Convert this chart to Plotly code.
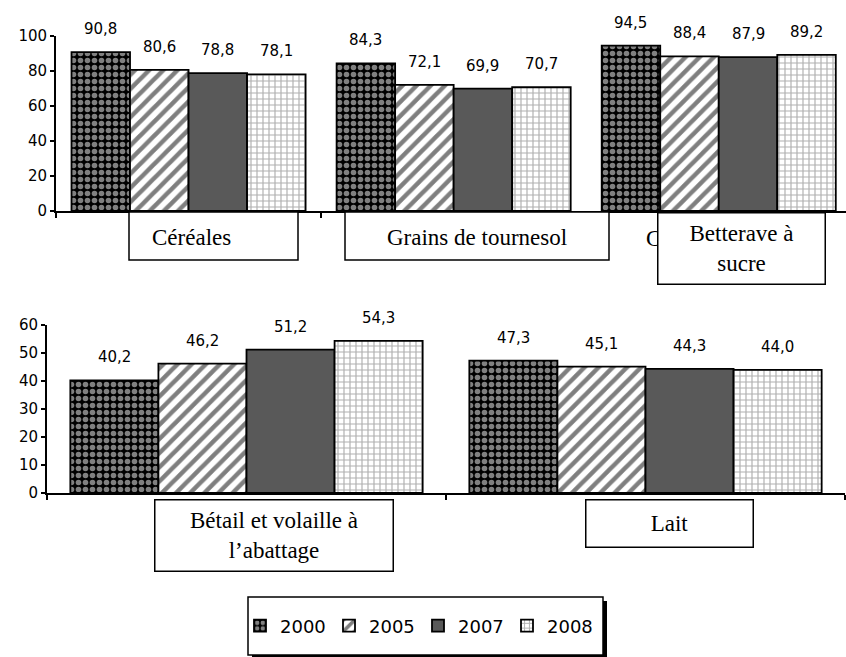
import plotly.graph_objects as go

# ---------------- data ----------------
years = ["2000", "2005", "2007", "2008"]
top_categories = ["Céréales", "Grains de tournesol", "Betterave à sucre"]
top_values = {
    "2000": [90.8, 84.3, 94.5],
    "2005": [80.6, 72.1, 88.4],
    "2007": [78.8, 69.9, 87.9],
    "2008": [78.1, 70.7, 89.2],
}
bottom_categories = ["Bétail et volaille à l’abattage", "Lait"]
bottom_values = {
    "2000": [40.2, 47.3],
    "2005": [46.2, 45.1],
    "2007": [51.2, 44.3],
    "2008": [54.3, 44.0],
}
top_ticks = [0, 20, 40, 60, 80, 100]
bottom_ticks = [0, 10, 20, 30, 40, 50, 60]

# ---------------- style ----------------
W, H = 846, 657
SANS = "DejaVu Sans"
SERIF = "Liberation Serif, Times New Roman, serif"
BARGAP = 0.117

def px(x):
    return x / W

def py(y):
    return 1 - y / H

patterns = {
    "2000": dict(color="black", pattern=dict(shape=".", fgcolor="white", bgcolor="black", size=7, solidity=0.5)),
    "2005": dict(color="white", pattern=dict(shape="/", fgcolor="black", bgcolor="white", size=10, solidity=0.45)),
    "2007": dict(color="#595959"),
    "2008": dict(color="white", pattern=dict(shape="+", fgcolor="#5e5e5e", bgcolor="white", size=6, solidity=0.35)),
}

fig = go.Figure()
for yr in years:
    m = dict(patterns[yr])
    m["line"] = dict(color="black", width=1.8)
    fig.add_trace(go.Bar(x=top_categories, y=top_values[yr], name=yr, marker=m,
                         xaxis="x", yaxis="y", legendgroup=yr, showlegend=True,
                         hoverinfo="skip"))
    fig.add_trace(go.Bar(x=bottom_categories, y=bottom_values[yr], name=yr, marker=m,
                         xaxis="x2", yaxis="y2", legendgroup=yr, showlegend=False,
                         hoverinfo="skip"))

# value labels, positioned in data coordinates
annotations = []
nser = len(years)
for i, yr in enumerate(years):
    off = (i - (nser - 1) / 2) * (1 - BARGAP) / nser
    for j, v in enumerate(top_values[yr]):
        annotations.append(dict(x=j + off, y=v, xref="x", yref="y", text=f"{v:.1f}".replace(".", ","),
                                showarrow=False, yanchor="middle", yshift=23,
                                font=dict(family=SANS, size=15, color="black")))
    for j, v in enumerate(bottom_values[yr]):
        annotations.append(dict(x=j + off, y=v, xref="x2", yref="y2", text=f"{v:.1f}".replace(".", ","),
                                showarrow=False, yanchor="middle", yshift=23,
                                font=dict(family=SANS, size=15, color="black")))

# category label boxes
shapes = []
def box(x0, y0, x1, y1, fill="white", lw=1.5):
    shapes.append(dict(type="rect", xref="paper", yref="paper",
                       x0=px(x0), x1=px(x1), y0=py(y1), y1=py(y0),
                       line=dict(color="black", width=lw), fillcolor=fill, layer="above"))

box(129, 212, 298, 260)
annotations.append(dict(x=px(150), y=py(237), xref="paper", yref="paper", text=top_categories[0],
                        showarrow=False, xanchor="left", yanchor="middle",
                        font=dict(family=SERIF, size=23, color="black")))
box(345, 212, 609, 260)
annotations.append(dict(x=px(477), y=py(237), xref="paper", yref="paper", text=top_categories[1],
                        showarrow=False, xanchor="center", yanchor="middle",
                        font=dict(family=SERIF, size=23, color="black")))
# partially hidden label
annotations.append(dict(x=px(653), y=py(239), xref="paper", yref="paper", text="C",
                        showarrow=False, xanchor="center", yanchor="middle",
                        font=dict(family=SERIF, size=23, color="black")))
annotations.append(dict(x=px(657), y=py(212), xref="paper", yref="paper",
                        text="Betterave à<br>sucre", showarrow=False, xanchor="left", yanchor="top",
                        width=166, height=70, bgcolor="white", bordercolor="black", borderwidth=1.5,
                        borderpad=0, align="center", valign="middle",
                        font=dict(family=SERIF, size=23, color="black")))
annotations.append(dict(x=px(154), y=py(499), xref="paper", yref="paper",
                        text="Bétail et volaille à<br>l’abattage", showarrow=False, xanchor="left", yanchor="top",
                        width=237, height=70, bgcolor="white", bordercolor="black", borderwidth=1.5,
                        borderpad=0, align="center", valign="middle",
                        font=dict(family=SERIF, size=23, color="black")))
annotations.append(dict(x=px(585), y=py(499), xref="paper", yref="paper",
                        text="Lait", showarrow=False, xanchor="left", yanchor="top",
                        width=166, height=46, bgcolor="white", bordercolor="black", borderwidth=1.5,
                        borderpad=0, align="center", valign="middle",
                        font=dict(family=SERIF, size=23, color="black")))

# legend frame with shadow
box(252, 601, 607, 662, fill="black", lw=0)
box(248, 597, 603, 655)

axis_common = dict(showline=True, linecolor="black", linewidth=1.8, showgrid=False, zeroline=False,
                   ticks="outside", tickcolor="black", tickwidth=1.8, mirror=False)

fig.update_layout(
    width=W, height=H,
    margin=dict(l=0, r=0, t=0, b=0, autoexpand=False),
    paper_bgcolor="white", plot_bgcolor="white",
    barmode="group", bargap=BARGAP, bargroupgap=0,
    separators=", ",
    font=dict(family=SANS, size=15, color="black"),
    xaxis=dict(axis_common, domain=[px(56), 1], type="category", categoryorder="array",
               categoryarray=top_categories, range=[-0.5, 2.48], showticklabels=False,
               tickson="boundaries", ticklen=5, anchor="y"),
    yaxis=dict(axis_common, domain=[py(211), py(36)], range=[0, 100], tickvals=top_ticks,
               ticklen=4, anchor="x", tickfont=dict(family=SANS, size=15, color="black")),
    xaxis2=dict(axis_common, domain=[px(47), px(845)], type="category", categoryorder="array",
                categoryarray=bottom_categories, range=[-0.5, 1.5], showticklabels=False,
                tickson="boundaries", ticklen=5, anchor="y2"),
    yaxis2=dict(axis_common, domain=[py(493), py(325)], range=[0, 60], tickvals=bottom_ticks,
                ticklen=4, anchor="x2", tickfont=dict(family=SANS, size=15, color="black")),
    legend=dict(orientation="h", x=px(240), y=py(626), xanchor="left", yanchor="middle",
                bgcolor="rgba(0,0,0,0)", borderwidth=0,
                font=dict(family=SANS, size=18, color="black"),
                itemwidth=30, entrywidth=44, entrywidthmode="pixels", traceorder="normal"),
    annotations=annotations,
    shapes=shapes,
)

fig.write_html("out.html", config={"displayModeBar": False},
               post_script="document.body.style.margin='0';document.body.style.overflow='hidden';")
